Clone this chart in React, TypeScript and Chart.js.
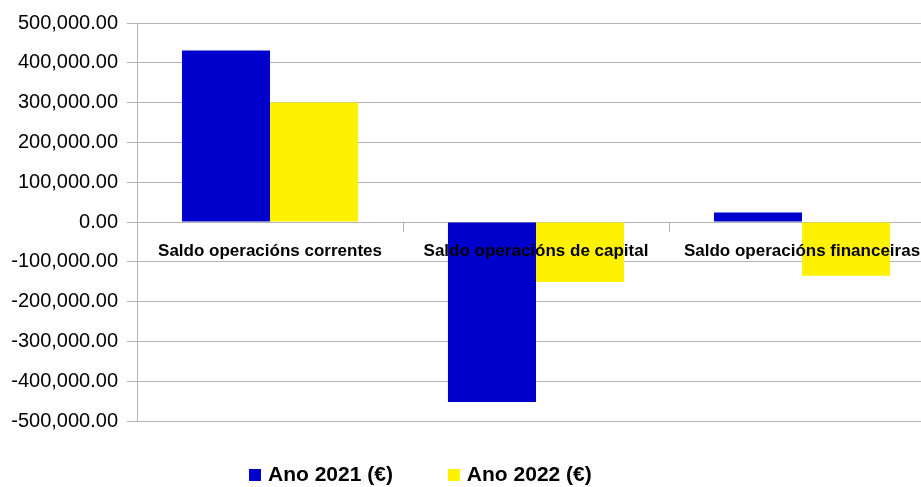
import React, { useEffect, useRef } from "react";
import { Chart, registerables } from "chart.js";

Chart.register(...registerables);

const categories = [
  "Saldo operacións correntes",
  "Saldo operacións de capital",
  "Saldo operacións financeiras",
];
const seriesLabels = ["Ano 2021 (€)", "Ano 2022 (€)"];
const ano2021 = [431000, -452000, 24000];
const ano2022 = [300000, -150500, -135000];
const yMin = -500000;
const yMax = 500000;
const yStep = 100000;

const BLUE = "#0000cc";
const YELLOW = "#fff200";
const GRID = "#b3b3b3";

const legendPlugin = {
  id: "bottomLegend",
  afterDraw(chart: any) {
    const ctx = chart.ctx;
    ctx.save();
    ctx.font = 'bold 21px "Liberation Sans", Arial, sans-serif';
    ctx.textBaseline = "middle";
    ctx.textAlign = "left";
    let x = 249;
    const y = 475;
    chart.data.datasets.forEach((ds: any) => {
      ctx.fillStyle = ds.backgroundColor;
      ctx.fillRect(x, y - 6, 12, 12);
      ctx.fillStyle = "#000";
      ctx.fillText(ds.label, x + 19, y);
      x += 19 + ctx.measureText(ds.label).width + 55;
    });
    ctx.restore();
  },
};

export default function App() {
  const ref = useRef<HTMLCanvasElement | null>(null);

  useEffect(() => {
    document.body.style.margin = "0";
    document.body.style.overflow = "hidden";
    document.documentElement.style.overflow = "hidden";
    if (!ref.current) return;
    const chart = new Chart(ref.current, {
      type: "bar",
      data: {
        labels: categories,
        datasets: [
          {
            label: seriesLabels[0],
            data: ano2021,
            backgroundColor: BLUE,
            borderWidth: 0,
            categoryPercentage: 0.662,
            barPercentage: 1,
          },
          {
            label: seriesLabels[1],
            data: ano2022,
            backgroundColor: YELLOW,
            borderWidth: 0,
            categoryPercentage: 0.662,
            barPercentage: 1,
          },
        ],
      },
      options: {
        responsive: false,
        animation: false,
        layout: { padding: { top: 23, bottom: 66, left: 0, right: 0 } },
        plugins: {
          legend: { display: false },
          tooltip: { enabled: false },
        },
        scales: {
          x: {
            type: "category",
            position: { y: 0 } as any,
            offset: true,
            grid: {
              display: true,
              drawOnChartArea: false,
              drawTicks: true,
              tickLength: 10,
              color: GRID,
              offset: true,
              z: 1,
            },
            border: { display: false },
            ticks: {
              z: 1,
              autoSkip: false,
              maxRotation: 0,
              minRotation: 0,
              padding: 9,
              color: "#000",
              font: {
                family: '"Liberation Sans", Arial, sans-serif',
                size: 17,
                weight: "bold",
              },
            },
          },
          y: {
            min: yMin,
            max: yMax,
            afterFit: (s: any) => {
              s.width = 137;
            },
            grid: {
              color: GRID,
              lineWidth: 1,
              tickLength: 10,
            },
            border: { display: true, color: GRID, width: 1 },
            ticks: {
              stepSize: yStep,
              padding: 9,
              color: "#000",
              font: {
                family: '"Liberation Sans", Arial, sans-serif',
                size: 20,
              },
              callback: (v: any) =>
                Number(v).toLocaleString("en-US", {
                  minimumFractionDigits: 2,
                  maximumFractionDigits: 2,
                }),
            },
          },
        },
      },
      plugins: [legendPlugin],
    });
    return () => chart.destroy();
  }, []);

  return (
    <div style={{ width: 921, height: 487, overflow: "hidden" }}>
      <canvas ref={ref} width={935} height={487} style={{ display: "block" }} />
    </div>
  );
}
